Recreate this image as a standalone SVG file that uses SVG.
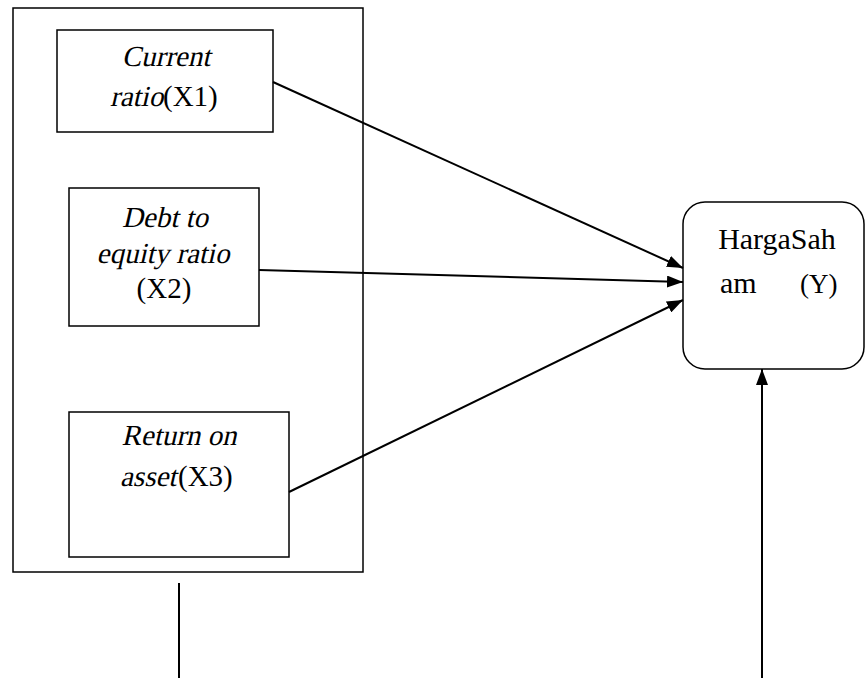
<svg xmlns="http://www.w3.org/2000/svg" width="865" height="678" viewBox="0 0 865 678">
<style>
.box{fill:#fff;stroke:#000;stroke-width:1.5}
.t{font-family:"Liberation Serif","Times New Roman",serif;font-size:29px;fill:#000}
.m{text-anchor:middle}
.s{text-anchor:start}
.c{stroke:#000;stroke-width:2;fill:none}
</style>
<defs>
<marker id="ah" markerWidth="16" markerHeight="12" refX="16" refY="6" orient="auto" markerUnits="userSpaceOnUse">
<path d="M0,0 L16,6 L0,12 Z" fill="#000"/>
</marker>
</defs>
<g id="group-x">
<rect class="box" x="13" y="8" width="350" height="564"/>
</g>
<g id="x1">
<rect class="box" x="57" y="30" width="216" height="102"/>
<text class="t m" transform="translate(166,66) skewX(-13)">Current</text>
<text class="t s" transform="translate(110,106) skewX(-13)">ratio</text>
<text class="t s" x="163" y="106">(X1)</text>
</g>
<g id="x2">
<rect class="box" x="69" y="188" width="190" height="138"/>
<text class="t m" transform="translate(165,227) skewX(-13)">Debt to</text>
<text class="t m" transform="translate(163,263) skewX(-13)">equity ratio</text>
<text class="t m" x="164" y="298">(X2)</text>
</g>
<g id="x3">
<rect class="box" x="69" y="412" width="220" height="145"/>
<text class="t m" transform="translate(179,445) skewX(-13)">Return on</text>
<text class="t s" transform="translate(120,486) skewX(-13)">asset</text>
<text class="t s" x="178" y="486">(X3)</text>
</g>
<g id="y">
<rect class="box" x="683" y="202" width="181" height="167" rx="22" ry="22"/>
<text class="t m" x="777" y="249" style="font-size:30px">HargaSah</text>
<text class="t s" x="720" y="293" style="font-size:30px">am</text>
<text class="t s" x="800" y="293" style="font-size:27px">(Y)</text>
</g>
<g id="connectors">
<line class="c" x1="273" y1="82" x2="683" y2="268" marker-end="url(#ah)"/>
<line class="c" x1="259" y1="270" x2="683" y2="282" marker-end="url(#ah)"/>
<line class="c" x1="289" y1="492" x2="683" y2="300" marker-end="url(#ah)"/>
<line class="c" x1="762" y1="678" x2="762" y2="369" marker-end="url(#ah)"/>
<line class="c" x1="179" y1="583" x2="179" y2="678"/>
</g>
</svg>
